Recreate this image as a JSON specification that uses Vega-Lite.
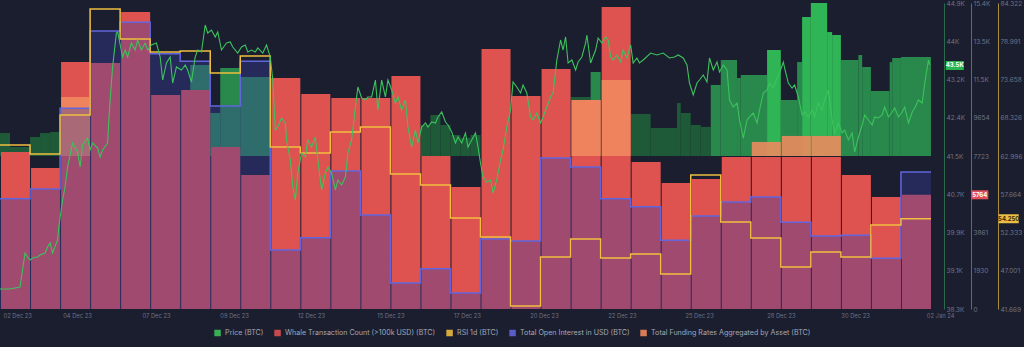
{
  "$schema": "https://vega.github.io/schema/vega-lite/v6.json",
  "width": 944,
  "height": 306,
  "autosize": {"type": "none"},
  "padding": {"left": 0, "top": 3, "right": 80, "bottom": 38},
  "background": "#1b1e2f",
  "config": {
    "view": {"stroke": null},
    "font": "Inter",
    "axis": {"grid": false, "ticks": false, "labelFont": "Inter", "labelColor": "#6f7486", "labelFontSize": 6.5, "labelOverlap": false}
  },
  "datasets": {
    "daily": [
      {"date": "2023-12-02", "whale": 7925, "rsi": 64.53, "oi": 14.88},
      {"date": "2023-12-03", "whale": 7118, "rsi": 63.27, "oi": 15.14},
      {"date": "2023-12-04", "whale": 12469, "rsi": 68.71, "oi": 17.25, "funding": 0.0386},
      {"date": "2023-12-05", "whale": 12418, "rsi": 83.49, "oi": 19.27},
      {"date": "2023-12-06", "whale": 14993, "rsi": 79.31, "oi": 19.5},
      {"date": "2023-12-07", "whale": 10803, "rsi": 77.49, "oi": 18.67},
      {"date": "2023-12-08", "whale": 11055, "rsi": 77.63, "oi": 18.48},
      {"date": "2023-12-09", "whale": 8178, "rsi": 74.57, "oi": 17.31},
      {"date": "2023-12-10", "whale": 6764, "rsi": 76.94, "oi": 18.48},
      {"date": "2023-12-11", "whale": 11661, "rsi": 64.25, "oi": 13.54},
      {"date": "2023-12-12", "whale": 10853, "rsi": 63.41, "oi": 13.86},
      {"date": "2023-12-13", "whale": 10651, "rsi": 66.34, "oi": 15.61},
      {"date": "2023-12-14", "whale": 10651, "rsi": 67.04, "oi": 14.46},
      {"date": "2023-12-15", "whale": 11762, "rsi": 60.49, "oi": 12.68},
      {"date": "2023-12-16", "whale": 7723, "rsi": 58.95, "oi": 13.05},
      {"date": "2023-12-17", "whale": 6159, "rsi": 54.35, "oi": 12.42},
      {"date": "2023-12-18", "whale": 13125, "rsi": 51.7, "oi": 13.83},
      {"date": "2023-12-19", "whale": 10752, "rsi": 42.09, "oi": 13.78},
      {"date": "2023-12-20", "whale": 12115, "rsi": 48.92, "oi": 15.95},
      {"date": "2023-12-21", "whale": 10550, "rsi": 51.43, "oi": 15.71, "funding": 0.0366},
      {"date": "2023-12-22", "whale": 15245, "rsi": 48.78, "oi": 14.88, "funding": 0.0497},
      {"date": "2023-12-23", "whale": 7421, "rsi": 49.33, "oi": 14.67},
      {"date": "2023-12-24", "whale": 6360, "rsi": 46.55, "oi": 13.8},
      {"date": "2023-12-25", "whale": 6562, "rsi": 60.35, "oi": 14.43},
      {"date": "2023-12-26", "whale": 7673, "rsi": 53.8, "oi": 14.8},
      {"date": "2023-12-27", "whale": 7673, "rsi": 51.57, "oi": 14.93, "funding": 0.0092},
      {"date": "2023-12-28", "whale": 7673, "rsi": 47.52, "oi": 14.27, "funding": 0.0131},
      {"date": "2023-12-29", "whale": 7673, "rsi": 49.61, "oi": 13.91, "funding": 0.0131},
      {"date": "2023-12-30", "whale": 6764, "rsi": 48.92, "oi": 13.93},
      {"date": "2023-12-31", "whale": 5654, "rsi": 53.38, "oi": 13.33},
      {"date": "2024-01-01", "whale": 5764, "rsi": 54.25, "oi": 15.58},
      {"date": "2024-01-02", "rsi": 54.25, "oi": 15.58}
    ],
    "greenDark": [
      {"start": "2023-12-02T00:00Z", "end": "2023-12-02T08:00Z", "v": 15.0},
      {"start": "2023-12-02T08:00Z", "end": "2023-12-03T00:00Z", "v": 5.9},
      {"start": "2023-12-03T00:00Z", "end": "2023-12-03T08:00Z", "v": 12.4},
      {"start": "2023-12-03T08:00Z", "end": "2023-12-03T16:00Z", "v": 15.0},
      {"start": "2023-12-03T16:00Z", "end": "2023-12-04T00:00Z", "v": 15.7},
      {"start": "2023-12-16T00:00Z", "end": "2023-12-16T08:00Z", "v": 20.3},
      {"start": "2023-12-16T08:00Z", "end": "2023-12-16T16:00Z", "v": 26.8},
      {"start": "2023-12-16T16:00Z", "end": "2023-12-17T00:00Z", "v": 20.3},
      {"start": "2023-12-17T00:00Z", "end": "2023-12-17T08:00Z", "v": 13.7},
      {"start": "2023-12-17T08:00Z", "end": "2023-12-17T16:00Z", "v": 11.8},
      {"start": "2023-12-17T16:00Z", "end": "2023-12-18T00:00Z", "v": 13.7},
      {"start": "2023-12-21T00:00Z", "end": "2023-12-21T16:00Z", "v": 38.6},
      {"start": "2023-12-23T00:00Z", "end": "2023-12-23T16:00Z", "v": 27.5},
      {"start": "2023-12-23T16:00Z", "end": "2023-12-24T13:00Z", "v": 18.3},
      {"start": "2023-12-24T13:00Z", "end": "2023-12-24T16:00Z", "v": 34.6},
      {"start": "2023-12-24T16:00Z", "end": "2023-12-25T00:00Z", "v": 28.1},
      {"start": "2023-12-25T00:00Z", "end": "2023-12-25T08:00Z", "v": 20.3},
      {"start": "2023-12-25T08:00Z", "end": "2023-12-25T16:00Z", "v": 19.0}
    ],
    "greenMid": [
      {"start": "2023-12-08T08:00Z", "end": "2023-12-09T00:00Z", "v": 59.5},
      {"start": "2023-12-09T00:00Z", "end": "2023-12-09T08:00Z", "v": 28.1},
      {"start": "2023-12-09T08:00Z", "end": "2023-12-10T00:00Z", "v": 57.5},
      {"start": "2023-12-10T00:00Z", "end": "2023-12-11T00:00Z", "v": 51.6},
      {"start": "2023-12-21T16:00Z", "end": "2023-12-22T00:00Z", "v": 54.9},
      {"start": "2023-12-25T16:00Z", "end": "2023-12-26T00:00Z", "v": 46.4},
      {"start": "2023-12-26T00:00Z", "end": "2023-12-26T13:00Z", "v": 62.7},
      {"start": "2023-12-26T13:00Z", "end": "2023-12-26T16:00Z", "v": 51.0},
      {"start": "2023-12-26T16:00Z", "end": "2023-12-27T13:00Z", "v": 52.9},
      {"start": "2023-12-28T00:00Z", "end": "2023-12-28T13:00Z", "v": 36.6},
      {"start": "2023-12-28T13:00Z", "end": "2023-12-28T17:00Z", "v": 61.4},
      {"start": "2023-12-30T00:00Z", "end": "2023-12-30T14:00Z", "v": 62.7},
      {"start": "2023-12-30T14:00Z", "end": "2023-12-30T17:00Z", "v": 66.0},
      {"start": "2023-12-30T17:00Z", "end": "2023-12-31T00:00Z", "v": 58.2},
      {"start": "2023-12-31T00:00Z", "end": "2023-12-31T15:00Z", "v": 42.5},
      {"start": "2023-12-31T15:00Z", "end": "2023-12-31T17:00Z", "v": 61.4},
      {"start": "2023-12-31T17:00Z", "end": "2024-01-01T00:00Z", "v": 64.1},
      {"start": "2024-01-01T00:00Z", "end": "2024-01-02T00:00Z", "v": 64.7}
    ],
    "greenBright": [
      {"start": "2023-12-27T13:00Z", "end": "2023-12-28T00:00Z", "v": 69.3},
      {"start": "2023-12-28T17:00Z", "end": "2023-12-29T00:00Z", "v": 90.8},
      {"start": "2023-12-29T00:00Z", "end": "2023-12-29T13:00Z", "v": 100.0},
      {"start": "2023-12-29T13:00Z", "end": "2023-12-29T17:00Z", "v": 81.0},
      {"start": "2023-12-29T17:00Z", "end": "2023-12-30T00:00Z", "v": 79.1}
    ],
    "price": [
      {"t": "2023-12-02T00:00Z", "p": 38713}, {"t": "2023-12-02T08:00Z", "p": 38713}, {"t": "2023-12-02T16:00Z", "p": 38756},
      {"t": "2023-12-02T18:00Z", "p": 39124}, {"t": "2023-12-02T20:00Z", "p": 39491}, {"t": "2023-12-02T22:00Z", "p": 39405},
      {"t": "2023-12-03T00:00Z", "p": 39340}, {"t": "2023-12-03T02:00Z", "p": 39383}, {"t": "2023-12-03T06:00Z", "p": 39405},
      {"t": "2023-12-03T08:00Z", "p": 39448}, {"t": "2023-12-03T12:00Z", "p": 39491}, {"t": "2023-12-03T14:00Z", "p": 39621},
      {"t": "2023-12-03T16:00Z", "p": 39708}, {"t": "2023-12-03T18:00Z", "p": 39491}, {"t": "2023-12-03T22:00Z", "p": 39773},
      {"t": "2023-12-03T23:00Z", "p": 40054}, {"t": "2023-12-04T02:00Z", "p": 40638}, {"t": "2023-12-04T04:00Z", "p": 40919},
      {"t": "2023-12-04T06:00Z", "p": 41352}, {"t": "2023-12-04T08:00Z", "p": 41612}, {"t": "2023-12-04T10:00Z", "p": 41871},
      {"t": "2023-12-04T14:00Z", "p": 41676}, {"t": "2023-12-04T16:00Z", "p": 41352}, {"t": "2023-12-04T18:00Z", "p": 41828},
      {"t": "2023-12-04T22:00Z", "p": 41979}, {"t": "2023-12-05T00:00Z", "p": 41720}, {"t": "2023-12-05T02:00Z", "p": 41871},
      {"t": "2023-12-05T06:00Z", "p": 41763}, {"t": "2023-12-05T08:00Z", "p": 41568}, {"t": "2023-12-05T10:00Z", "p": 41720},
      {"t": "2023-12-05T14:00Z", "p": 41871}, {"t": "2023-12-05T15:00Z", "p": 42369}, {"t": "2023-12-05T16:00Z", "p": 42802},
      {"t": "2023-12-05T18:00Z", "p": 43516}, {"t": "2023-12-05T21:00Z", "p": 44251}, {"t": "2023-12-05T22:00Z", "p": 44273},
      {"t": "2023-12-06T02:00Z", "p": 43732}, {"t": "2023-12-06T04:00Z", "p": 43883}, {"t": "2023-12-06T06:00Z", "p": 43732},
      {"t": "2023-12-06T09:00Z", "p": 44035}, {"t": "2023-12-06T12:00Z", "p": 43883}, {"t": "2023-12-06T14:00Z", "p": 44100},
      {"t": "2023-12-06T17:00Z", "p": 43883}, {"t": "2023-12-06T20:00Z", "p": 44035}, {"t": "2023-12-06T22:00Z", "p": 43883},
      {"t": "2023-12-07T01:00Z", "p": 43992}, {"t": "2023-12-07T05:00Z", "p": 44035}, {"t": "2023-12-07T08:00Z", "p": 43732},
      {"t": "2023-12-07T10:00Z", "p": 43234}, {"t": "2023-12-07T13:00Z", "p": 43602}, {"t": "2023-12-07T16:00Z", "p": 43732},
      {"t": "2023-12-07T18:00Z", "p": 43169}, {"t": "2023-12-07T21:00Z", "p": 43516}, {"t": "2023-12-08T01:00Z", "p": 43451},
      {"t": "2023-12-08T04:00Z", "p": 43559}, {"t": "2023-12-08T06:00Z", "p": 43451}, {"t": "2023-12-08T09:00Z", "p": 43191},
      {"t": "2023-12-08T12:00Z", "p": 43732}, {"t": "2023-12-08T14:00Z", "p": 43883}, {"t": "2023-12-08T17:00Z", "p": 43840},
      {"t": "2023-12-08T20:00Z", "p": 44424}, {"t": "2023-12-08T22:00Z", "p": 44251}, {"t": "2023-12-09T01:00Z", "p": 44316},
      {"t": "2023-12-09T04:00Z", "p": 44165}, {"t": "2023-12-09T06:00Z", "p": 44273}, {"t": "2023-12-09T09:00Z", "p": 43883},
      {"t": "2023-12-09T13:00Z", "p": 44035}, {"t": "2023-12-09T16:00Z", "p": 44056}, {"t": "2023-12-09T18:00Z", "p": 43948},
      {"t": "2023-12-09T22:00Z", "p": 43818}, {"t": "2023-12-10T01:00Z", "p": 43948}, {"t": "2023-12-10T04:00Z", "p": 43992},
      {"t": "2023-12-10T06:00Z", "p": 43840}, {"t": "2023-12-10T09:00Z", "p": 43883}, {"t": "2023-12-10T12:00Z", "p": 43840},
      {"t": "2023-12-10T14:00Z", "p": 43927}, {"t": "2023-12-10T18:00Z", "p": 43818}, {"t": "2023-12-10T21:00Z", "p": 43992},
      {"t": "2023-12-11T00:00Z", "p": 43732}, {"t": "2023-12-11T02:00Z", "p": 43234}, {"t": "2023-12-11T04:00Z", "p": 42152},
      {"t": "2023-12-11T06:00Z", "p": 42217}, {"t": "2023-12-11T09:00Z", "p": 42412}, {"t": "2023-12-11T12:00Z", "p": 42304},
      {"t": "2023-12-11T13:00Z", "p": 41936}, {"t": "2023-12-11T16:00Z", "p": 41503}, {"t": "2023-12-11T18:00Z", "p": 40919},
      {"t": "2023-12-11T20:00Z", "p": 40638}, {"t": "2023-12-11T22:00Z", "p": 41222}, {"t": "2023-12-12T01:00Z", "p": 41655},
      {"t": "2023-12-12T04:00Z", "p": 41568}, {"t": "2023-12-12T06:00Z", "p": 41936}, {"t": "2023-12-12T09:00Z", "p": 41785},
      {"t": "2023-12-12T12:00Z", "p": 42001}, {"t": "2023-12-12T14:00Z", "p": 41503}, {"t": "2023-12-12T17:00Z", "p": 40855},
      {"t": "2023-12-12T20:00Z", "p": 41222}, {"t": "2023-12-12T22:00Z", "p": 41352}, {"t": "2023-12-13T01:00Z", "p": 41222},
      {"t": "2023-12-13T04:00Z", "p": 40855}, {"t": "2023-12-13T06:00Z", "p": 41071}, {"t": "2023-12-13T09:00Z", "p": 40963},
      {"t": "2023-12-13T12:00Z", "p": 41136}, {"t": "2023-12-13T14:00Z", "p": 41655}, {"t": "2023-12-13T17:00Z", "p": 41936},
      {"t": "2023-12-13T20:00Z", "p": 42650}, {"t": "2023-12-13T22:00Z", "p": 43083}, {"t": "2023-12-14T01:00Z", "p": 42845},
      {"t": "2023-12-14T04:00Z", "p": 42802}, {"t": "2023-12-14T06:00Z", "p": 42867}, {"t": "2023-12-14T09:00Z", "p": 42867},
      {"t": "2023-12-14T12:00Z", "p": 43234}, {"t": "2023-12-14T14:00Z", "p": 42585}, {"t": "2023-12-14T17:00Z", "p": 43234},
      {"t": "2023-12-14T20:00Z", "p": 42867}, {"t": "2023-12-14T22:00Z", "p": 43234}, {"t": "2023-12-15T01:00Z", "p": 43018},
      {"t": "2023-12-15T04:00Z", "p": 42737}, {"t": "2023-12-15T06:00Z", "p": 42867}, {"t": "2023-12-15T09:00Z", "p": 42585},
      {"t": "2023-12-15T12:00Z", "p": 42802}, {"t": "2023-12-15T14:00Z", "p": 42217}, {"t": "2023-12-15T17:00Z", "p": 41785},
      {"t": "2023-12-15T20:00Z", "p": 42152}, {"t": "2023-12-15T22:00Z", "p": 41871}, {"t": "2023-12-16T01:00Z", "p": 42217},
      {"t": "2023-12-16T04:00Z", "p": 42304}, {"t": "2023-12-16T06:00Z", "p": 42217}, {"t": "2023-12-16T09:00Z", "p": 42326},
      {"t": "2023-12-16T12:00Z", "p": 42304}, {"t": "2023-12-16T14:00Z", "p": 42434}, {"t": "2023-12-16T17:00Z", "p": 42542},
      {"t": "2023-12-16T20:00Z", "p": 42326}, {"t": "2023-12-16T22:00Z", "p": 42261}, {"t": "2023-12-17T01:00Z", "p": 42109},
      {"t": "2023-12-17T04:00Z", "p": 41871}, {"t": "2023-12-17T06:00Z", "p": 42001}, {"t": "2023-12-17T09:00Z", "p": 41871},
      {"t": "2023-12-17T12:00Z", "p": 42088}, {"t": "2023-12-17T14:00Z", "p": 41785}, {"t": "2023-12-17T17:00Z", "p": 41936},
      {"t": "2023-12-17T20:00Z", "p": 42088}, {"t": "2023-12-17T22:00Z", "p": 41785}, {"t": "2023-12-18T00:00Z", "p": 41439},
      {"t": "2023-12-18T02:00Z", "p": 41136}, {"t": "2023-12-18T05:00Z", "p": 41028}, {"t": "2023-12-18T08:00Z", "p": 41071},
      {"t": "2023-12-18T10:00Z", "p": 40790}, {"t": "2023-12-18T13:00Z", "p": 41071}, {"t": "2023-12-18T16:00Z", "p": 41503},
      {"t": "2023-12-18T18:00Z", "p": 41720}, {"t": "2023-12-18T21:00Z", "p": 42217}, {"t": "2023-12-19T00:00Z", "p": 42585},
      {"t": "2023-12-19T02:00Z", "p": 43191}, {"t": "2023-12-19T05:00Z", "p": 43083}, {"t": "2023-12-19T08:00Z", "p": 42953},
      {"t": "2023-12-19T10:00Z", "p": 43126}, {"t": "2023-12-19T13:00Z", "p": 42953}, {"t": "2023-12-19T16:00Z", "p": 42434},
      {"t": "2023-12-19T18:00Z", "p": 42369}, {"t": "2023-12-19T21:00Z", "p": 42520}, {"t": "2023-12-20T00:00Z", "p": 42304},
      {"t": "2023-12-20T02:00Z", "p": 42434}, {"t": "2023-12-20T05:00Z", "p": 42650}, {"t": "2023-12-20T08:00Z", "p": 42867},
      {"t": "2023-12-20T10:00Z", "p": 42953}, {"t": "2023-12-20T13:00Z", "p": 43667}, {"t": "2023-12-20T16:00Z", "p": 44100},
      {"t": "2023-12-20T18:00Z", "p": 43883}, {"t": "2023-12-20T20:00Z", "p": 44165}, {"t": "2023-12-20T22:00Z", "p": 43602},
      {"t": "2023-12-21T01:00Z", "p": 43667}, {"t": "2023-12-21T04:00Z", "p": 43451}, {"t": "2023-12-21T06:00Z", "p": 43624},
      {"t": "2023-12-21T09:00Z", "p": 43732}, {"t": "2023-12-21T12:00Z", "p": 44035}, {"t": "2023-12-21T13:00Z", "p": 44208},
      {"t": "2023-12-21T16:00Z", "p": 43602}, {"t": "2023-12-21T20:00Z", "p": 43883}, {"t": "2023-12-21T22:00Z", "p": 44143},
      {"t": "2023-12-22T01:00Z", "p": 44035}, {"t": "2023-12-22T04:00Z", "p": 44165}, {"t": "2023-12-22T06:00Z", "p": 44100},
      {"t": "2023-12-22T08:00Z", "p": 43732}, {"t": "2023-12-22T10:00Z", "p": 43667}, {"t": "2023-12-22T13:00Z", "p": 43775},
      {"t": "2023-12-22T16:00Z", "p": 43624}, {"t": "2023-12-22T18:00Z", "p": 43883}, {"t": "2023-12-22T21:00Z", "p": 43710},
      {"t": "2023-12-23T00:00Z", "p": 43992}, {"t": "2023-12-23T02:00Z", "p": 43602}, {"t": "2023-12-23T05:00Z", "p": 43710},
      {"t": "2023-12-23T07:00Z", "p": 43602}, {"t": "2023-12-23T10:00Z", "p": 43667}, {"t": "2023-12-23T16:00Z", "p": 43818},
      {"t": "2023-12-23T21:00Z", "p": 43775}, {"t": "2023-12-24T02:00Z", "p": 43818}, {"t": "2023-12-24T07:00Z", "p": 43710},
      {"t": "2023-12-24T11:00Z", "p": 43732}, {"t": "2023-12-24T14:00Z", "p": 43775}, {"t": "2023-12-24T18:00Z", "p": 43710},
      {"t": "2023-12-24T21:00Z", "p": 43559}, {"t": "2023-12-24T23:00Z", "p": 43169}, {"t": "2023-12-25T02:00Z", "p": 42910},
      {"t": "2023-12-25T05:00Z", "p": 43169}, {"t": "2023-12-25T07:00Z", "p": 43234}, {"t": "2023-12-25T10:00Z", "p": 43342},
      {"t": "2023-12-25T13:00Z", "p": 43191}, {"t": "2023-12-25T15:00Z", "p": 43710}, {"t": "2023-12-25T18:00Z", "p": 43451},
      {"t": "2023-12-25T21:00Z", "p": 43624}, {"t": "2023-12-25T23:00Z", "p": 43407}, {"t": "2023-12-26T02:00Z", "p": 43559},
      {"t": "2023-12-26T05:00Z", "p": 43451}, {"t": "2023-12-26T07:00Z", "p": 42802}, {"t": "2023-12-26T10:00Z", "p": 42650},
      {"t": "2023-12-26T13:00Z", "p": 42737}, {"t": "2023-12-26T15:00Z", "p": 42369}, {"t": "2023-12-26T18:00Z", "p": 41979},
      {"t": "2023-12-26T21:00Z", "p": 42369}, {"t": "2023-12-26T23:00Z", "p": 42434}, {"t": "2023-12-27T02:00Z", "p": 42520},
      {"t": "2023-12-27T05:00Z", "p": 42304}, {"t": "2023-12-27T07:00Z", "p": 42585}, {"t": "2023-12-27T10:00Z", "p": 42953},
      {"t": "2023-12-27T13:00Z", "p": 43018}, {"t": "2023-12-27T15:00Z", "p": 43169}, {"t": "2023-12-27T18:00Z", "p": 43061},
      {"t": "2023-12-27T21:00Z", "p": 43277}, {"t": "2023-12-27T23:00Z", "p": 43386}, {"t": "2023-12-28T02:00Z", "p": 43624},
      {"t": "2023-12-28T03:00Z", "p": 43494}, {"t": "2023-12-28T06:00Z", "p": 43169}, {"t": "2023-12-28T09:00Z", "p": 43061},
      {"t": "2023-12-28T11:00Z", "p": 43126}, {"t": "2023-12-28T14:00Z", "p": 42867}, {"t": "2023-12-28T17:00Z", "p": 42477},
      {"t": "2023-12-28T19:00Z", "p": 42542}, {"t": "2023-12-28T22:00Z", "p": 42434}, {"t": "2023-12-29T01:00Z", "p": 42585},
      {"t": "2023-12-29T03:00Z", "p": 42434}, {"t": "2023-12-29T06:00Z", "p": 42737}, {"t": "2023-12-29T09:00Z", "p": 42585},
      {"t": "2023-12-29T11:00Z", "p": 42802}, {"t": "2023-12-29T14:00Z", "p": 43018}, {"t": "2023-12-29T17:00Z", "p": 42369},
      {"t": "2023-12-29T19:00Z", "p": 42088}, {"t": "2023-12-29T22:00Z", "p": 42304}, {"t": "2023-12-30T01:00Z", "p": 42088},
      {"t": "2023-12-30T03:00Z", "p": 42152}, {"t": "2023-12-30T06:00Z", "p": 41936}, {"t": "2023-12-30T09:00Z", "p": 42088},
      {"t": "2023-12-30T11:00Z", "p": 41676}, {"t": "2023-12-30T14:00Z", "p": 42001}, {"t": "2023-12-30T17:00Z", "p": 42261},
      {"t": "2023-12-30T19:00Z", "p": 42477}, {"t": "2023-12-30T22:00Z", "p": 42369}, {"t": "2023-12-31T01:00Z", "p": 42261},
      {"t": "2023-12-31T03:00Z", "p": 42434}, {"t": "2023-12-31T06:00Z", "p": 42412}, {"t": "2023-12-31T09:00Z", "p": 42477},
      {"t": "2023-12-31T11:00Z", "p": 42650}, {"t": "2023-12-31T14:00Z", "p": 42434}, {"t": "2023-12-31T17:00Z", "p": 42542},
      {"t": "2023-12-31T19:00Z", "p": 42628}, {"t": "2023-12-31T22:00Z", "p": 42434}, {"t": "2024-01-01T01:00Z", "p": 42542},
      {"t": "2024-01-01T03:00Z", "p": 42650}, {"t": "2024-01-01T06:00Z", "p": 42304}, {"t": "2024-01-01T09:00Z", "p": 42542},
      {"t": "2024-01-01T11:00Z", "p": 42628}, {"t": "2024-01-01T14:00Z", "p": 42802}, {"t": "2024-01-01T17:00Z", "p": 42737},
      {"t": "2024-01-01T19:00Z", "p": 43169}, {"t": "2024-01-01T22:00Z", "p": 43667}, {"t": "2024-01-01T23:00Z", "p": 43559}
    ],
    "last": [
      {"t": "2024-01-01T23:00Z", "p": 43548, "pLabel": "43.5K", "whale": 5764, "wLabel": "5764", "rsi": 54.25, "rLabel": "54.250"}
    ]
  },
  "layer": [
    {
      "data": {"name": "greenDark"},
      "mark": {"type": "bar", "color": "#1e5a37"},
      "encoding": {
        "x": {"field": "start", "type": "temporal",
          "scale": {"type": "utc", "domain": [{"year": 2023, "month": 12, "date": 2, "utc": true}, {"year": 2024, "month": 1, "date": 2, "hours": 10, "minutes": 24, "utc": true}]},
          "axis": {"title": null, "domain": false, "labelFlush": true, "labelFlushOffset": -3, "format": "%d %b %y", "labelFontSize": 5.8, "labelColor": "#6c7183", "labelPadding": 3,
            "values": [
              {"year": 2023, "month": 12, "date": 2, "utc": true},
              {"year": 2023, "month": 12, "date": 4, "hours": 13, "minutes": 30, "utc": true},
              {"year": 2023, "month": 12, "date": 7, "hours": 4, "minutes": 40, "utc": true},
              {"year": 2023, "month": 12, "date": 9, "hours": 19, "utc": true},
              {"year": 2023, "month": 12, "date": 12, "hours": 8, "minutes": 30, "utc": true},
              {"year": 2023, "month": 12, "date": 15, "utc": true},
              {"year": 2023, "month": 12, "date": 17, "hours": 13, "minutes": 10, "utc": true},
              {"year": 2023, "month": 12, "date": 20, "hours": 2, "minutes": 45, "utc": true},
              {"year": 2023, "month": 12, "date": 22, "hours": 17, "utc": true},
              {"year": 2023, "month": 12, "date": 25, "hours": 6, "minutes": 40, "utc": true},
              {"year": 2023, "month": 12, "date": 28, "utc": true},
              {"year": 2023, "month": 12, "date": 30, "hours": 11, "minutes": 20, "utc": true},
              {"year": 2024, "month": 1, "date": 2, "hours": 7, "minutes": 15, "utc": true}
            ]}},
        "x2": {"field": "end"},
        "y": {"field": "v", "type": "quantitative", "scale": {"domain": [-100, 100], "zero": false, "nice": false}, "axis": null},
        "y2": {"datum": 0}
      }
    },
    {
      "data": {"name": "greenMid"},
      "mark": {"type": "bar", "color": "#29884c"},
      "encoding": {
        "x": {"field": "start", "type": "temporal", "scale": {"type": "utc", "domain": [{"year": 2023, "month": 12, "date": 2, "utc": true}, {"year": 2024, "month": 1, "date": 2, "hours": 10, "minutes": 24, "utc": true}]}},
        "x2": {"field": "end"},
        "y": {"field": "v", "type": "quantitative", "scale": {"domain": [-100, 100], "zero": false, "nice": false}, "axis": null},
        "y2": {"datum": 0}
      }
    },
    {
      "data": {"name": "greenBright"},
      "mark": {"type": "bar", "color": "#2fb556"},
      "encoding": {
        "x": {"field": "start", "type": "temporal", "scale": {"type": "utc", "domain": [{"year": 2023, "month": 12, "date": 2, "utc": true}, {"year": 2024, "month": 1, "date": 2, "hours": 10, "minutes": 24, "utc": true}]}},
        "x2": {"field": "end"},
        "y": {"field": "v", "type": "quantitative", "scale": {"domain": [-100, 100], "zero": false, "nice": false}, "axis": null},
        "y2": {"datum": 0}
      }
    },
    {
      "data": {"name": "daily"},
      "mark": {"type": "bar"},
      "encoding": {
        "x": {"field": "date", "type": "temporal", "timeUnit": "utcyearmonthdate", "scale": {"type": "utc", "domain": [{"year": 2023, "month": 12, "date": 2, "utc": true}, {"year": 2024, "month": 1, "date": 2, "hours": 10, "minutes": 24, "utc": true}]}},
        "y": {"field": "whale", "type": "quantitative", "scale": {"domain": [0, 15446], "nice": false},
          "axis": {"orient": "right", "offset": 27, "title": null, "domainColor": "#b3435c", "labelPadding": 2, "labelAlign": "left", "labelBaseline": "middle",
            "values": [0, 1930.75, 3861.5, 5792.25, 7723, 9653.75, 11584.5, 13515.25, 15446],
            "labelExpr": "['0','1930','3861','5792','7723','9654','11.5K','13.5K','15.4K'][round(datum.value/1930.75)]"}},
        "color": {"datum": "Whale Transaction Count (>100k USD) (BTC)",
          "scale": {"domain": ["Price (BTC)", "Whale Transaction Count (>100k USD) (BTC)", "RSI 1d (BTC)", "Total Open Interest in USD (BTC)", "Total Funding Rates Aggregated by Asset (BTC)"],
                    "range": ["#3cc35c", "#de5250", "#f0be40", "#6266dc", "#f08a5e"]},
          "legend": {"orient": "none", "legendX": 214, "legendY": 326, "direction": "horizontal", "title": null, "symbolType": "square", "symbolSize": 25,
                     "labelFontSize": 7.1, "labelColor": "#a4a8b6", "labelFont": "Inter", "labelLimit": 400, "columnPadding": 8, "labelOffset": 4, "padding": 0}}
      }
    },
    {
      "data": {"name": "daily"},
      "mark": {"type": "bar", "opacity": 0.88},
      "encoding": {
        "x": {"field": "date", "type": "temporal", "timeUnit": "utcyearmonthdate", "scale": {"type": "utc", "domain": [{"year": 2023, "month": 12, "date": 2, "utc": true}, {"year": 2024, "month": 1, "date": 2, "hours": 10, "minutes": 24, "utc": true}]}},
        "y": {"field": "funding", "type": "quantitative", "scale": {"domain": [-0.1, 0.1], "zero": false, "nice": false}, "axis": null},
        "y2": {"datum": 0},
        "color": {"datum": "Total Funding Rates Aggregated by Asset (BTC)"}
      }
    },
    {
      "data": {"name": "daily"},
      "mark": {"type": "area", "interpolate": "step-after", "color": "#3b40a0", "opacity": 0.38},
      "encoding": {
        "x": {"field": "date", "type": "temporal", "scale": {"type": "utc", "domain": [{"year": 2023, "month": 12, "date": 2, "utc": true}, {"year": 2024, "month": 1, "date": 2, "hours": 10, "minutes": 24, "utc": true}]}},
        "y": {"field": "oi", "type": "quantitative", "scale": {"domain": [12, 20], "zero": false, "nice": false}, "axis": null},
        "y2": {"datum": 12}
      }
    },
    {
      "data": {"name": "daily"},
      "mark": {"type": "line", "interpolate": "step-after", "strokeWidth": 1.5},
      "encoding": {
        "x": {"field": "date", "type": "temporal", "scale": {"type": "utc", "domain": [{"year": 2023, "month": 12, "date": 2, "utc": true}, {"year": 2024, "month": 1, "date": 2, "hours": 10, "minutes": 24, "utc": true}]}},
        "y": {"field": "oi", "type": "quantitative", "scale": {"domain": [12, 20], "zero": false, "nice": false}, "axis": null},
        "color": {"datum": "Total Open Interest in USD (BTC)"}
      }
    },
    {
      "data": {"name": "daily"},
      "mark": {"type": "line", "interpolate": "step-after", "strokeWidth": 1.5},
      "encoding": {
        "x": {"field": "date", "type": "temporal", "scale": {"type": "utc", "domain": [{"year": 2023, "month": 12, "date": 2, "utc": true}, {"year": 2024, "month": 1, "date": 2, "hours": 10, "minutes": 24, "utc": true}]}},
        "y": {"field": "rsi", "type": "quantitative", "scale": {"domain": [41.669, 84.325], "zero": false, "nice": false},
          "axis": {"orient": "right", "offset": 54, "title": null, "domainColor": "#a98b3c", "labelPadding": 2, "labelAlign": "left", "labelBaseline": "middle",
            "values": [41.669, 47.001, 52.333, 57.665, 62.997, 68.329, 73.661, 78.993, 84.325],
            "labelExpr": "['41.669','47.001','52.333','57.664','62.996','68.326','73.658','78.991','84.322'][round((datum.value-41.669)/5.332)]"}},
        "color": {"datum": "RSI 1d (BTC)"}
      }
    },
    {
      "data": {"name": "price"},
      "mark": {"type": "line", "strokeWidth": 1.1},
      "encoding": {
        "x": {"field": "t", "type": "temporal", "scale": {"type": "utc", "domain": [{"year": 2023, "month": 12, "date": 2, "utc": true}, {"year": 2024, "month": 1, "date": 2, "hours": 10, "minutes": 24, "utc": true}]}},
        "y": {"field": "p", "type": "quantitative", "scale": {"domain": [38280, 44900], "zero": false, "nice": false},
          "axis": {"orient": "right", "offset": 0, "title": null, "domainColor": "#2c6b4a", "labelPadding": 2, "labelAlign": "left", "labelBaseline": "middle",
            "values": [38280, 39107.5, 39935, 40762.5, 41590, 42417.5, 43245, 44072.5, 44900],
            "labelExpr": "['38.3K','39.1K','39.9K','40.7K','41.5K','42.4K','43.2K','44K','44.9K'][round((datum.value-38280)/827.5)]"}},
        "color": {"datum": "Price (BTC)"}
      }
    },
    {
      "data": {"name": "last"},
      "mark": {"type": "tick", "orient": "horizontal", "size": 18, "thickness": 9, "color": "#2bb552", "opacity": 1, "xOffset": 25},
      "encoding": {
        "x": {"field": "t", "type": "temporal", "scale": {"type": "utc", "domain": [{"year": 2023, "month": 12, "date": 2, "utc": true}, {"year": 2024, "month": 1, "date": 2, "hours": 10, "minutes": 24, "utc": true}]}},
        "y": {"field": "p", "type": "quantitative", "scale": {"domain": [38280, 44900], "zero": false, "nice": false}, "axis": null}
      }
    },
    {
      "data": {"name": "last"},
      "mark": {"type": "text", "dx": 25, "color": "#ffffff", "fontSize": 6, "fontWeight": "bold", "align": "center", "baseline": "middle"},
      "encoding": {
        "x": {"field": "t", "type": "temporal", "scale": {"type": "utc", "domain": [{"year": 2023, "month": 12, "date": 2, "utc": true}, {"year": 2024, "month": 1, "date": 2, "hours": 10, "minutes": 24, "utc": true}]}},
        "y": {"field": "p", "type": "quantitative", "scale": {"domain": [38280, 44900], "zero": false, "nice": false}, "axis": null},
        "text": {"field": "pLabel"}
      }
    },
    {
      "data": {"name": "last"},
      "mark": {"type": "tick", "orient": "horizontal", "size": 17, "thickness": 9, "color": "#e0505a", "opacity": 1, "xOffset": 50},
      "encoding": {
        "x": {"field": "t", "type": "temporal", "scale": {"type": "utc", "domain": [{"year": 2023, "month": 12, "date": 2, "utc": true}, {"year": 2024, "month": 1, "date": 2, "hours": 10, "minutes": 24, "utc": true}]}},
        "y": {"field": "whale", "type": "quantitative", "scale": {"domain": [0, 15446], "nice": false}, "axis": null}
      }
    },
    {
      "data": {"name": "last"},
      "mark": {"type": "text", "dx": 50, "color": "#ffffff", "fontSize": 6, "fontWeight": "bold", "align": "center", "baseline": "middle"},
      "encoding": {
        "x": {"field": "t", "type": "temporal", "scale": {"type": "utc", "domain": [{"year": 2023, "month": 12, "date": 2, "utc": true}, {"year": 2024, "month": 1, "date": 2, "hours": 10, "minutes": 24, "utc": true}]}},
        "y": {"field": "whale", "type": "quantitative", "scale": {"domain": [0, 15446], "nice": false}, "axis": null},
        "text": {"field": "wLabel"}
      }
    },
    {
      "data": {"name": "last"},
      "mark": {"type": "tick", "orient": "horizontal", "size": 20, "thickness": 9, "color": "#e8bf45", "opacity": 1, "xOffset": 79},
      "encoding": {
        "x": {"field": "t", "type": "temporal", "scale": {"type": "utc", "domain": [{"year": 2023, "month": 12, "date": 2, "utc": true}, {"year": 2024, "month": 1, "date": 2, "hours": 10, "minutes": 24, "utc": true}]}},
        "y": {"field": "rsi", "type": "quantitative", "scale": {"domain": [41.669, 84.325], "zero": false, "nice": false}, "axis": null}
      }
    },
    {
      "data": {"name": "last"},
      "mark": {"type": "text", "dx": 79, "color": "#3a2c08", "fontSize": 6, "fontWeight": "bold", "align": "center", "baseline": "middle"},
      "encoding": {
        "x": {"field": "t", "type": "temporal", "scale": {"type": "utc", "domain": [{"year": 2023, "month": 12, "date": 2, "utc": true}, {"year": 2024, "month": 1, "date": 2, "hours": 10, "minutes": 24, "utc": true}]}},
        "y": {"field": "rsi", "type": "quantitative", "scale": {"domain": [41.669, 84.325], "zero": false, "nice": false}, "axis": null},
        "text": {"field": "rLabel"}
      }
    }
  ],
  "resolve": {"scale": {"y": "independent"}}
}
